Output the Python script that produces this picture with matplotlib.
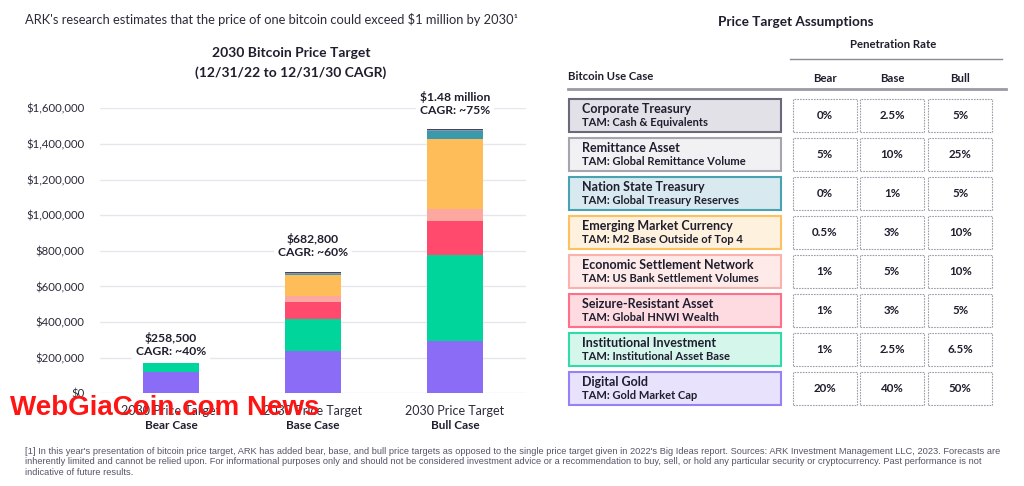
'''
ARK 2030 bitcoin price target: stacked bars + assumption table.
'''
import numpy as np
import matplotlib as mpl
mpl.use('Agg')
from matplotlib import pyplot as plt
from matplotlib.patches import Rectangle
from matplotlib.transforms import blended_transform_factory

mpl.rcParams['font.family'] = ['Lato', 'DejaVu Sans']

#(0) Data:
cases        = ['Bear Case', 'Base Case', 'Bull Case']
totals_txt   = ['$258,500', '$682,800', '$1.48 million']
cagr_txt     = ['CAGR: ~40%', 'CAGR: ~60%', 'CAGR: ~75%']
### stack segments, bottom to top:
seg_names    = ['Digital Gold', 'Institutional Investment', 'Seizure-Resistant Asset',
                'Economic Settlement Network', 'Emerging Market Currency',
                'Nation State Treasury', 'Remittance Asset', 'Corporate Treasury']
gold         = [118000, 235800, 293600]
institution  = [54000, 181300, 481000]
seizure      = [0, 97100, 192600]
settlement   = [0, 33700, 69600]
emerging     = [0, 117900, 393000]
nation       = [0, 3000, 41000]
remittance   = [0, 5000, 5000]
corporate    = [0, 9000, 6000]
seg_values   = [gold, institution, seizure, settlement, emerging, nation, remittance, corporate]
seg_colors   = ['#8b6cf6', '#00d69b', '#ff4a6e', '#fda7a1', '#febd59', '#3a9aab', '#8d95a8', '#44465f']
yticks       = np.arange(0, 1600001, 200000)

### table:
use_case     = ['Corporate Treasury', 'Remittance Asset', 'Nation State Treasury',
                'Emerging Market Currency', 'Economic Settlement Network',
                'Seizure-Resistant Asset', 'Institutional Investment', 'Digital Gold']
tam          = ['TAM: Cash & Equivalents', 'TAM: Global Remittance Volume',
                'TAM: Global Treasury Reserves', 'TAM: M2 Base Outside of Top 4',
                'TAM: US Bank Settlement Volumes', 'TAM: Global HNWI Wealth',
                'TAM: Institutional Asset Base', 'TAM: Gold Market Cap']
bear_rate    = ['0%', '5%', '0%', '0.5%', '1%', '1%', '1%', '20%']
base_rate    = ['2.5%', '10%', '1%', '3%', '5%', '3%', '2.5%', '40%']
bull_rate    = ['5%', '25%', '5%', '10%', '10%', '5%', '6.5%', '50%']
row_fill     = ['#e2e1e8', '#f1f1f3', '#d8eaef', '#fef1dd', '#feeae8', '#fedae1', '#d5f6ea', '#e8e2fd']
row_edge     = ['#6a697c', '#a5a5b0', '#49a2b0', '#fdc15f', '#fcb2ac', '#ff6f88', '#2fdba8', '#9a80f7']

footnote = ("[1] In this year's presentation of bitcoin price target, ARK has added bear, base, and bull price targets as opposed to the single price target given in 2022's Big Ideas report. Sources: ARK Investment Management LLC, 2023. Forecasts are\n"
            "inherently limited and cannot be relied upon. For informational purposes only and should not be considered investment advice or a recommendation to buy, sell, or hold any particular security or cryptocurrency. Past performance is not\n"
            "indicative of future results.")

dark = '#1e1e2e'
W, H = 1024, 486
def P(x, y):
	return x / W, 1 - y / H


#(1) Plot:
fig = plt.figure(figsize=(10.24, 4.86), dpi=100)
fig.patch.set_facecolor('white')

ax = fig.add_axes([100/W, 1-393.3/H, 426/W, 285/H])
x = np.arange(len(cases))
bottom = np.zeros(len(cases))
for vals, c in zip(seg_values, seg_colors):
	ax.bar(x, vals, 0.395, bottom=bottom, color=c, edgecolor='none', zorder=2)
	bottom += np.array(vals)
ax.set_xlim(-0.5, 2.5)
ax.set_ylim(0, 1600000)
ax.set_yticks(yticks)
ax.set_yticklabels([f'${v:,.0f}' for v in yticks], fontsize=8.2, color='#2b2b3a')
ax.tick_params(axis='y', length=0, pad=11)
ax.set_xticks([])
for s in ax.spines.values():
	s.set_visible(False)
ax.grid(axis='y', color='#e6e6ee', lw=1, zorder=0)
ax.set_axisbelow(True)

label_off = [18, 26, 26]
for i in range(len(cases)):
	ax.annotate(totals_txt[i] + '\n' + cagr_txt[i], xy=(x[i], bottom[i]), xytext=(0, label_off[i]),
	            textcoords='offset pixels', ha='center', va='center', fontsize=8.7, fontweight='bold',
	            color=dark, linespacing=1.25, annotation_clip=False, zorder=5,
	            bbox=dict(boxstyle='square,pad=0.35', fc='white', ec='none'))

tr = blended_transform_factory(ax.transData, ax.transAxes)
for i, c in enumerate(cases):
	ax.text(x[i], -18/285, '2030 Price Target', transform=tr, ha='center', va='center', fontsize=9, color='#2b2b3a')
	ax.text(x[i], -32/285, c, transform=tr, ha='center', va='center', fontsize=8.5, fontweight='bold', color=dark)

### titles:
fig.text(*P(25, 20), "ARK's research estimates that the price of one bitcoin could exceed $1 million by 2030\u00b9",
         ha='left', va='center', fontsize=9.3, color='#2b2b3a')
fig.text(*P(291, 53), '2030 Bitcoin Price Target', ha='center', va='center', fontsize=10, fontweight='bold', color=dark)
fig.text(*P(291, 73), '(12/31/22 to 12/31/30 CAGR)', ha='center', va='center', fontsize=10, fontweight='bold', color=dark)

### watermark:
fig.text(*P(10, 408), 'WebGiaCoin.com News', ha='left', va='center', fontsize=20, fontweight='bold',
         color='#ff1414', family=['Liberation Sans Narrow', 'Liberation Sans', 'DejaVu Sans'])

### table:
fig.text(*P(796, 22), 'Price Target Assumptions', ha='center', va='center', fontsize=9.8, fontweight='bold', color=dark)
fig.text(*P(893, 45), 'Penetration Rate', ha='center', va='center', fontsize=8.2, fontweight='bold', color=dark)
fig.add_artist(plt.Line2D([790/W, 1002/W], [1-59/H, 1-59/H], color='#8a8a96', lw=1))
fig.text(*P(568, 77), 'Bitcoin Use Case', ha='left', va='center', fontsize=8.2, fontweight='bold', color=dark)
col_x = [824.5, 892, 960.3]
for cx, s in zip(col_x, ['Bear', 'Base', 'Bull']):
	fig.text(*P(cx, 78), s, ha='center', va='center', fontsize=8.2, fontweight='bold', color=dark)
fig.add_artist(plt.Line2D([568/W, 1006/W], [1-89/H, 1-89/H], color='#9a9aa4', lw=2))

row_top = 99
row_h = 33
pitch = 39.0
for r in range(len(use_case)):
	yt = row_top + r * pitch
	fig.add_artist(Rectangle(P(568.5, yt + row_h), 212/W, row_h/H, transform=fig.transFigure,
	                         fc=row_fill[r], ec=row_edge[r], lw=1.5))
	fig.text(*P(582, yt + 10), use_case[r], ha='left', va='center', fontsize=9, fontweight='bold', color=dark)
	fig.text(*P(582, yt + 23.5), tam[r], ha='left', va='center', fontsize=8, fontweight='bold', color=dark)
	for cx, vals in zip(col_x, [bear_rate, base_rate, bull_rate]):
		fig.add_artist(Rectangle(P(cx - 32, yt + row_h), 64/W, row_h/H, transform=fig.transFigure,
		                         fc='white', ec='#9c9caa', lw=0.8, ls=(0, (1.5, 1))))
		fig.text(*P(cx, yt + row_h/2), vals[r], ha='center', va='center', fontsize=8.3, fontweight='bold', color=dark)

### footnote:
fig.text(*P(25, 447), footnote, ha='left', va='top', fontsize=6.7, color='#55556a', linespacing=1.2,
         family=['Liberation Sans Narrow', 'Liberation Sans', 'DejaVu Sans'])

fig.savefig('out.png', dpi=100)
